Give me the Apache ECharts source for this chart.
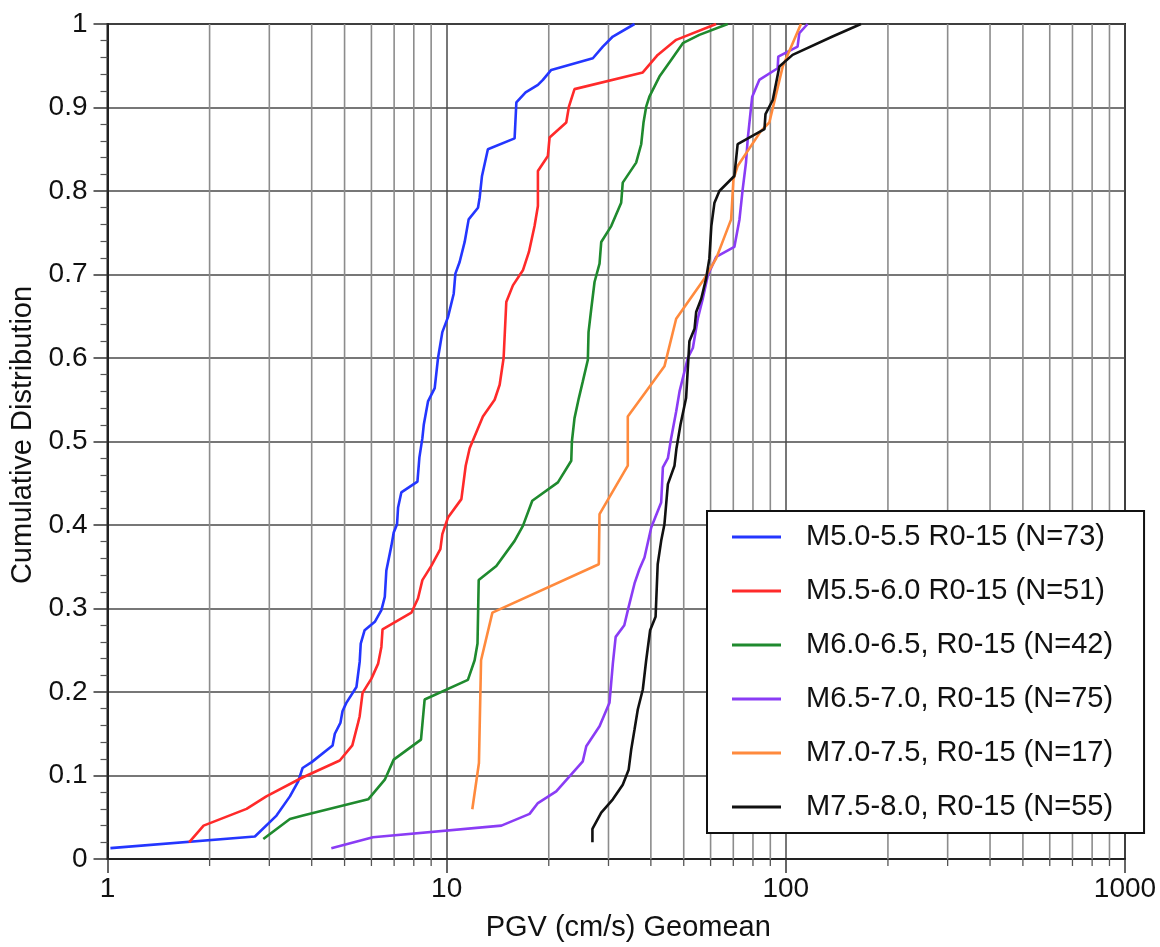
<!DOCTYPE html>
<html>
<head>
<meta charset="utf-8">
<script src="https://cdn.jsdelivr.net/npm/echarts@6/dist/echarts.min.js"></script>
<style>
html,body{margin:0;padding:0;background:#fff;}
#chart{width:1160px;height:947px;}
</style>
</head>
<body>
<div id="chart"></div>
<script>
// ---- Data (PGV in cm/s, cumulative fraction) ----
const seriesNames = [
  'M5.0-5.5 R0-15 (N=73)',
  'M5.5-6.0 R0-15 (N=51)',
  'M6.0-6.5, R0-15 (N=42)',
  'M6.5-7.0, R0-15 (N=75)',
  'M7.0-7.5, R0-15 (N=17)',
  'M7.5-8.0, R0-15 (N=55)'
];

const m50x = [1.02, 2.72, 3.15, 3.45, 3.65, 3.76, 4.0, 4.61, 4.68, 4.86, 4.93, 5.06, 5.42, 5.54, 5.58, 5.73, 6.14, 6.42, 6.57, 6.64, 6.87, 6.98, 7.14, 7.19, 7.35, 8.2, 8.31, 8.48, 8.56, 8.81, 9.22, 9.43, 9.71, 10.09, 10.49, 10.61, 10.92, 11.3, 11.61, 12.37, 12.51, 12.71, 13.23, 15.86, 16.05, 17.09, 18.58, 19.22, 20.34, 26.98, 28.87, 30.9, 35.8];
const m50y = [0.013, 0.027, 0.052, 0.075, 0.093, 0.109, 0.116, 0.136, 0.150, 0.163, 0.177, 0.187, 0.206, 0.236, 0.258, 0.274, 0.284, 0.298, 0.314, 0.3455, 0.375, 0.391, 0.401, 0.421, 0.439, 0.452, 0.481, 0.504, 0.520, 0.548, 0.564, 0.600, 0.631, 0.649, 0.677, 0.701, 0.715, 0.739, 0.766, 0.780, 0.792, 0.818, 0.850, 0.863, 0.906, 0.918, 0.927, 0.933, 0.945, 0.959, 0.973, 0.985, 1.0];

const m55x = [1.74, 1.92, 2.57, 2.94, 3.73, 4.84, 5.27, 5.48, 5.54, 5.65, 6.0, 6.28, 6.42, 6.47, 7.87, 8.23, 8.48, 9.01, 9.58, 9.71, 10.09, 11.05, 11.38, 11.69, 12.79, 13.85, 14.33, 14.72, 14.99, 15.68, 16.78, 17.48, 18.16, 18.58, 18.58, 19.88, 20.11, 22.52, 22.93, 23.82, 37.87, 41.9, 47.5, 62.3];
const m55y = [0.020, 0.040, 0.060, 0.075, 0.097, 0.118, 0.136, 0.163, 0.171, 0.199, 0.216, 0.234, 0.254, 0.275, 0.295, 0.312, 0.334, 0.351, 0.371, 0.389, 0.409, 0.431, 0.471, 0.492, 0.530, 0.550, 0.568, 0.600, 0.667, 0.687, 0.705, 0.727, 0.758, 0.782, 0.824, 0.842, 0.864, 0.882, 0.901, 0.922, 0.942, 0.963, 0.981, 1.0];

const m60x = [2.88, 3.45, 3.77, 5.87, 6.57, 6.98, 8.4, 8.61, 11.55, 12.09, 12.33, 12.43, 14.01, 15.86, 16.78, 17.88, 21.28, 23.3, 23.4, 23.82, 24.53, 25.2, 26.08, 26.2, 26.69, 27.29, 28.23, 28.56, 30.56, 32.7, 33.05, 36.2, 37.46, 38.05, 38.75, 39.6, 42.4, 45.9, 49.7, 55.6, 67.4];
const m60y = [0.024, 0.048, 0.052, 0.0715, 0.095, 0.119, 0.143, 0.191, 0.2145, 0.238, 0.258, 0.334, 0.351, 0.381, 0.399, 0.429, 0.451, 0.477, 0.500, 0.528, 0.552, 0.572, 0.598, 0.631, 0.659, 0.691, 0.713, 0.739, 0.758, 0.786, 0.810, 0.834, 0.856, 0.882, 0.901, 0.913, 0.937, 0.957, 0.977, 0.987, 1.0];

const m65x = [4.57, 6.06, 14.5, 17.56, 18.58, 21.04, 25.2, 25.8, 28.23, 30.2, 30.9, 31.5, 33.4, 34.4, 35.8, 37.0, 38.3, 40.1, 42.9, 43.4, 44.9, 45.9, 47.5, 48.6, 51.4, 53.2, 55.0, 56.9, 58.9, 62.3, 70.5, 73.0, 74.6, 76.3, 77.2, 79.0, 79.6, 83.5, 94.6, 95.0, 108.3, 109.6, 115.9];
const m65y = [0.013, 0.026, 0.040, 0.054, 0.067, 0.081, 0.117, 0.135, 0.159, 0.187, 0.234, 0.266, 0.280, 0.302, 0.330, 0.347, 0.361, 0.397, 0.427, 0.469, 0.480, 0.504, 0.536, 0.560, 0.600, 0.612, 0.647, 0.671, 0.699, 0.721, 0.733, 0.766, 0.802, 0.834, 0.862, 0.901, 0.913, 0.933, 0.947, 0.961, 0.973, 0.989, 1.0];

const m70x = [11.9, 12.45, 12.63, 13.64, 28.09, 28.23, 34.2, 34.2, 43.86, 47.5, 57.5, 62.3, 68.98, 70.07, 72.1, 84.5, 89.4, 97.9, 110.8];
const m70y = [0.0596, 0.115, 0.238, 0.295, 0.353, 0.413, 0.471, 0.530, 0.590, 0.647, 0.695, 0.719, 0.766, 0.814, 0.830, 0.872, 0.882, 0.949, 1.0];

const m75x = [26.9, 26.9, 28.56, 30.9, 33.05, 34.4, 35.0, 35.8, 36.6, 37.87, 38.75, 39.8, 41.3, 41.9, 42.9, 43.86, 44.9, 46.96, 47.6, 48.9, 50.8, 51.96, 53.8, 54.4, 56.3, 58.2, 59.5, 60.3, 61.6, 63.7, 70.5, 72.1, 86.5, 87.1, 91.5, 95.7, 104.7, 137.3, 166.5];
const m75y = [0.020, 0.036, 0.0555, 0.0715, 0.089, 0.107, 0.131, 0.155, 0.179, 0.203, 0.238, 0.274, 0.290, 0.353, 0.381, 0.401, 0.449, 0.471, 0.492, 0.520, 0.552, 0.620, 0.635, 0.655, 0.671, 0.695, 0.719, 0.758, 0.786, 0.800, 0.818, 0.856, 0.874, 0.892, 0.909, 0.949, 0.963, 0.985, 1.0];

// minor vertical grid values of the log axis
const minorX = [2,3,4,5,6,7,8,9,20,30,40,50,60,70,80,90,200,300,400,500,600,700,800,900];
const xMajorLabels = ['1', '10', '100', '1000'];

const colors = ['#2436ff', '#ff2a2a', '#1f8a2e', '#8a3cf5', '#ff8a3d', '#111111'];

// ---- Build chart ----
const xs = [m50x, m55x, m60x, m65x, m70x, m75x];
const ys = [m50y, m55y, m60y, m65y, m70y, m75y];
const FONT = '"Liberation Sans", Arial, Helvetica, sans-serif';

const lineSeries = seriesNames.map((name, i) => ({
  name: name,
  type: 'line',
  data: xs[i].map((x, k) => [x, ys[i][k]]),
  showSymbol: false,
  symbol: 'none',
  lineStyle: { color: colors[i], width: 2.6 },
  itemStyle: { color: colors[i] },
  z: 5,
  animation: false
}));

const minorSeries = {
  type: 'custom',
  silent: true,
  clip: false,
  z: 1,
  animation: false,
  data: minorX.map(v => [v, 0]),
  renderItem: function (params, api) {
    const v = api.value(0);
    const p0 = api.coord([v, 0]);
    const p1 = api.coord([v, 1]);
    return {
      type: 'group',
      children: [
        { type: 'line', shape: { x1: p0[0], y1: p0[1], x2: p1[0], y2: p1[1] },
          style: { stroke: '#8c8c8c', lineWidth: 1.6 } },
        { type: 'line', shape: { x1: p0[0], y1: p0[1], x2: p0[0], y2: p0[1] + 7 },
          style: { stroke: '#555', lineWidth: 1.3 } }
      ]
    };
  }
};

const chart = echarts.init(document.getElementById('chart'), null, { renderer: 'canvas' });
chart.setOption({
  backgroundColor: '#ffffff',
  animation: false,
  textStyle: { fontFamily: FONT },
  grid: { left: 107.5, right: 35, top: 24, bottom: 83.7, show: true, borderColor: '#222', borderWidth: 2, backgroundColor: 'transparent' },
  xAxis: {
    type: 'log',
    logBase: 10,
    min: 1,
    max: 1000,
    name: 'PGV (cm/s) Geomean',
    nameLocation: 'middle',
    nameGap: 54,
    nameTextStyle: { fontSize: 29, color: '#111', fontFamily: FONT, padding: [0, 0, 0, 24] },
    axisLine: { show: true, onZero: false, lineStyle: { color: '#222', width: 2 } },
    axisTick: { show: true, inside: false, length: 14, lineStyle: { color: '#333', width: 1.5 } },
    axisLabel: {
      fontSize: 28, color: '#111', fontFamily: FONT, margin: 16,
      formatter: function (v) {
        const idx = Math.round(Math.log10(v));
        return xMajorLabels[idx] !== undefined ? xMajorLabels[idx] : String(Math.round(v));
      }
    },
    splitLine: { show: true, lineStyle: { color: '#4a4a4a', width: 1.5 } }
  },
  yAxis: {
    type: 'value',
    min: 0,
    max: 1,
    interval: 0.1,
    name: 'Cumulative Distribution',
    nameLocation: 'middle',
    nameGap: 61,
    nameTextStyle: { fontSize: 29, color: '#111', fontFamily: FONT, padding: [0, 0, 0, 13] },
    axisLine: { show: true, onZero: false, lineStyle: { color: '#222', width: 2 } },
    axisTick: { show: true, inside: false, length: 14, lineStyle: { color: '#333', width: 1.5 } },
    minorTick: { show: true, splitNumber: 5, length: 7, lineStyle: { color: '#555', width: 1.2 } },
    axisLabel: { fontSize: 28, color: '#111', fontFamily: FONT, margin: 20 },
    splitLine: { show: true, lineStyle: { color: '#4a4a4a', width: 1.5 } }
  },
  legend: {
    orient: 'vertical',
    left: 707,
    top: 511,
    padding: [9, 31, 9, 25],
    itemGap: 20,
    itemWidth: 49,
    itemHeight: 3,
    icon: 'rect',
    backgroundColor: '#ffffff',
    borderColor: '#111',
    borderWidth: 2,
    borderRadius: 0,
    selectedMode: false,
    data: seriesNames,
    textStyle: { fontSize: 29, color: '#111', fontFamily: FONT, lineHeight: 34, padding: [0, 0, 0, 20] }
  },
  series: [minorSeries].concat(lineSeries)
});
</script>
</body>
</html>
